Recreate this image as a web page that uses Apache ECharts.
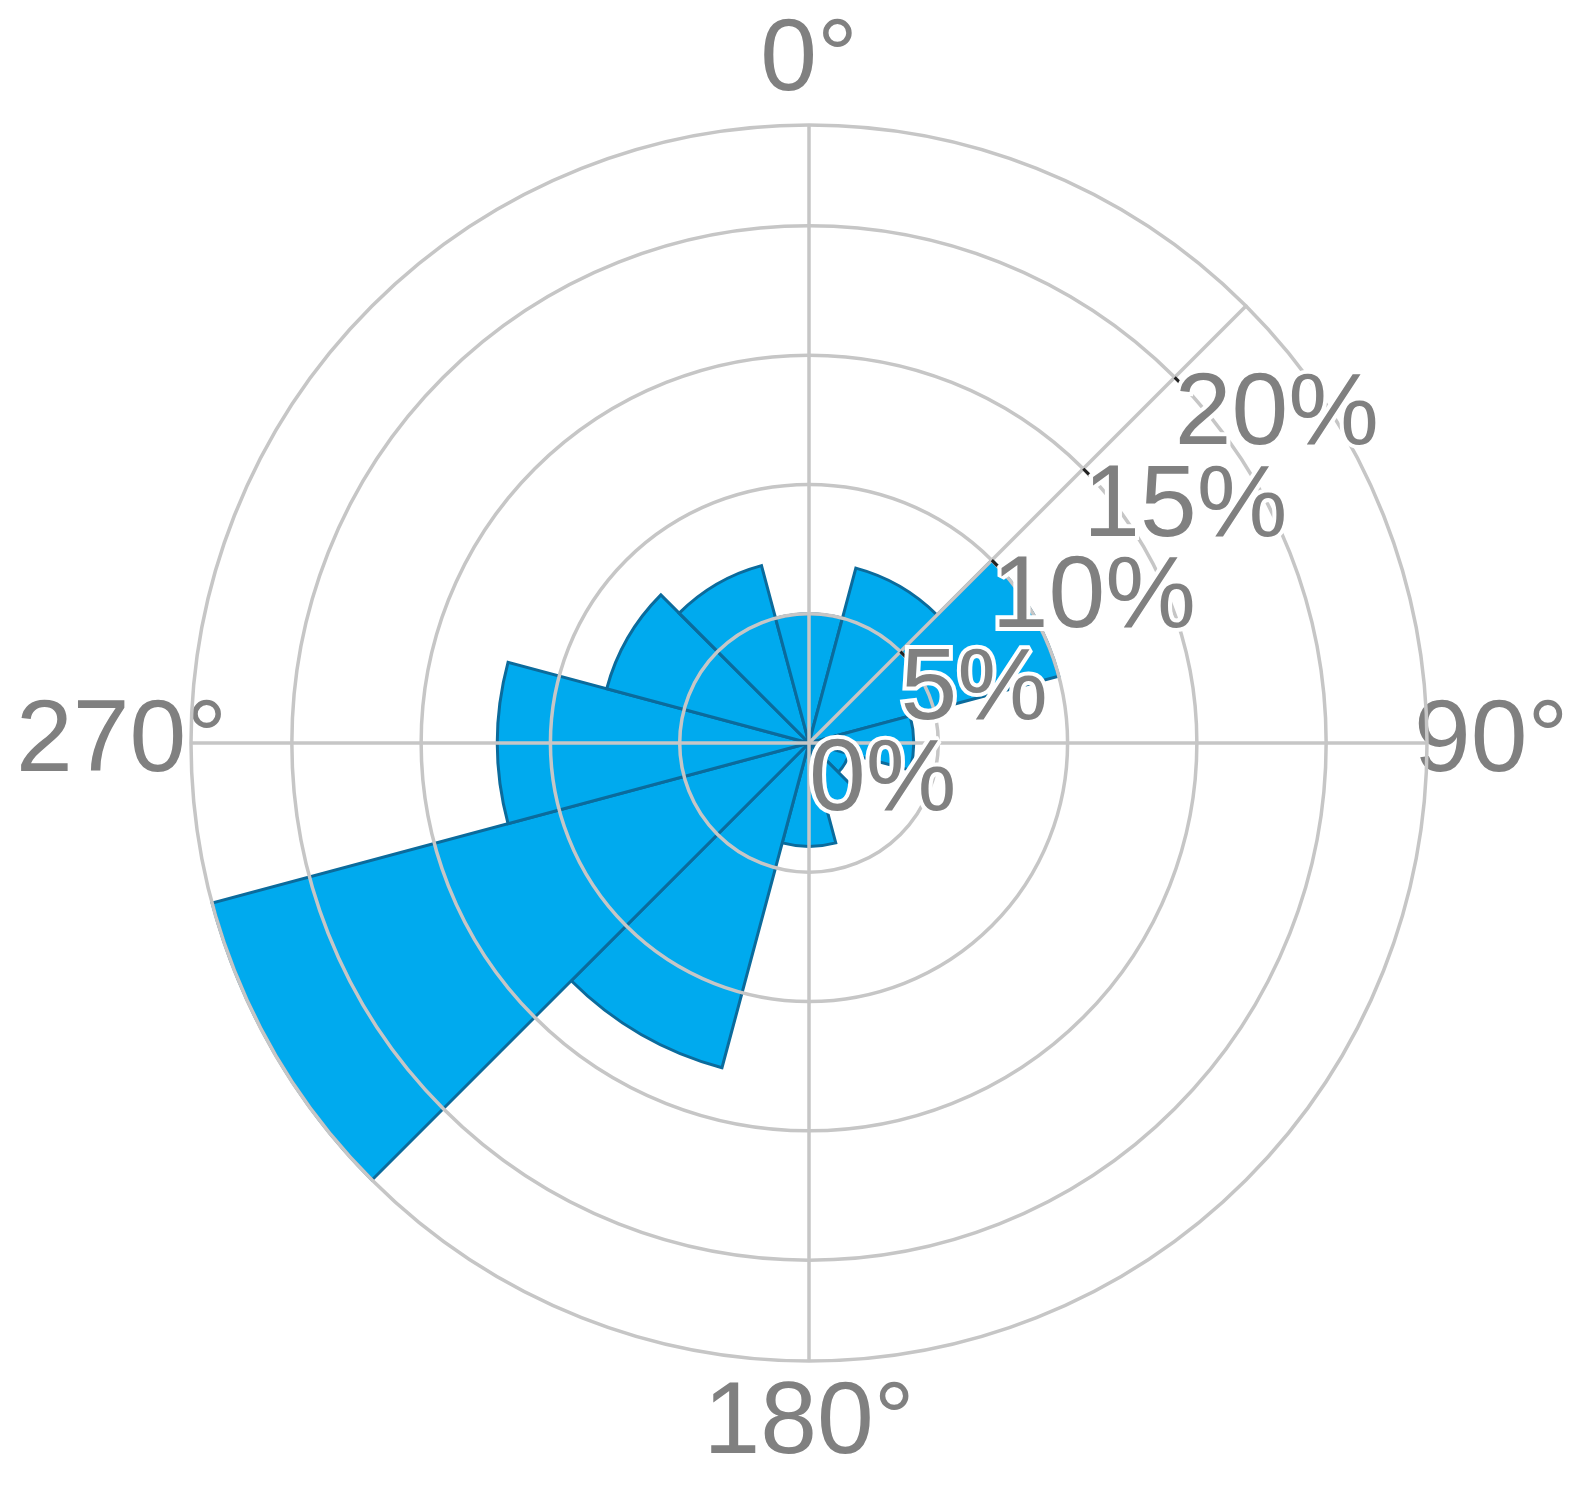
<!DOCTYPE html>
<html><head><meta charset="utf-8">
<style>html,body{margin:0;padding:0;background:#fff}#c{width:1593px;height:1495px}</style>
<script src="https://cdn.jsdelivr.net/npm/echarts@6/dist/echarts.min.js"></script>
</head><body><div id="c"></div>
<script>
// Wind direction sectors (bearing of sector centre, degrees) and frequency (%)
const directions = [0, 30, 60, 90, 120, 150, 180, 210, 240, 270, 300, 330];
const frequencies = [5.0, 7.0, 10.0, 4.05, 1.6, 2.6, 4.0, 13.0, 23.9, 12.05, 8.1, 7.1];
const radiusTicks = [0, 5, 10, 15, 20];
const radiusMax = 23.9;
const angleTicks = [0, 90, 180, 270];

// rotate so that the category axis starts at the 45° boundary (where the % axis lies)
const startIdx = directions.indexOf(60);
const cats = directions.slice(startIdx).concat(directions.slice(0, startIdx)).map(String);
const vals = frequencies.slice(startIdx).concat(frequencies.slice(0, startIdx));

const FONT = 'Liberation Sans';
const TXT = '#808080';
const GRID = '#c6c6c6';
const FS = 102;
const base = {fontFamily: FONT, fontSize: FS, color: TXT, textBorderColor: '#fff', textBorderWidth: 8};
const richAngle = {
  a0: Object.assign({}, base, {lineHeight: 199}),
  a180: Object.assign({}, base, {lineHeight: 199}),
  a90: Object.assign({}, base, {lineHeight: FS, padding: [0, 0, 0, 23]}),
  a270: Object.assign({}, base, {lineHeight: FS})
};
const radLabel = {
  show: true, margin: 0, align: 'left', verticalAlign: 'top', lineHeight: 78,
  fontFamily: FONT, fontSize: FS, color: TXT, textBorderColor: '#fff', textBorderWidth: 8
};

const chart = echarts.init(document.getElementById('c'), null, {renderer: 'canvas'});
chart.setOption({
  backgroundColor: '#fff',
  animation: false,
  polar: [
    {center: [809, 743], radius: 618},
    {center: [809, 743], radius: 618}
  ],
  angleAxis: [
    {
      polarIndex: 0, type: 'category', data: cats, startAngle: 45, clockwise: true,
      axisLine: {show: false}, axisTick: {show: false}, axisLabel: {show: false}, splitLine: {show: false}
    },
    {
      polarIndex: 1, type: 'value', min: 0, max: 360, interval: 90, startAngle: 90, clockwise: true, z: 11,
      axisLine: {show: true, lineStyle: {color: GRID, width: 3.5}},
      axisTick: {show: false},
      splitLine: {show: true, lineStyle: {color: GRID, width: 3.5}},
      axisLabel: {
        show: true, margin: -36,
        fontFamily: FONT, fontSize: FS, color: TXT, textBorderColor: '#fff', textBorderWidth: 8,
        formatter: function (v) { return angleTicks.indexOf(v) >= 0 ? '{a' + v + '|' + v + '°}' : ''; },
        rich: richAngle
      }
    }
  ],
  radiusAxis: [
    {
      polarIndex: 0, type: 'value', min: 0, max: radiusMax, interval: 5, z: 12,
      axisLine: {show: true, lineStyle: {color: GRID, width: 3.5}},
      axisTick: {show: true, customValues: radiusTicks.slice(1), length: -8, lineStyle: {color: '#222', width: 3}},
      splitLine: {show: true, lineStyle: {color: GRID, width: 3.5}},
      axisLabel: Object.assign({}, radLabel, {
        showMinLabel: false,
        formatter: function (v) { return (v !== 0 && radiusTicks.indexOf(v) >= 0) ? v + '%' : ''; }
      })
    },
    {
      // second radius axis only carries the centre "0%" label
      polarIndex: 1, type: 'value', min: 0, max: radiusMax, interval: 5, z: 12,
      axisLine: {show: false}, axisTick: {show: false}, splitLine: {show: false},
      axisLabel: Object.assign({}, radLabel, {
        showMinLabel: true,
        formatter: function (v) { return v === radiusTicks[0] ? v + '%' : ''; }
      })
    }
  ],
  series: [{
    type: 'bar', coordinateSystem: 'polar', polarIndex: 0, z: 2,
    data: vals, barCategoryGap: '0%',
    itemStyle: {color: '#00AAEE', borderColor: '#0b6b9c', borderWidth: 3},
    emphasis: {disabled: true}
  }]
});
</script></body></html>
